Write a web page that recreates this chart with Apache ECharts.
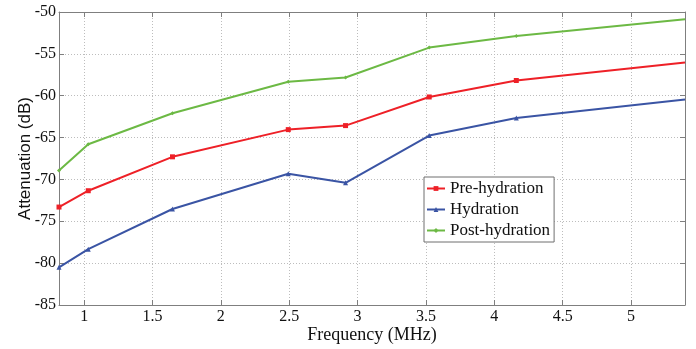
<!DOCTYPE html>
<html>
<head>
<meta charset="utf-8">
<script src="https://cdn.jsdelivr.net/npm/echarts@6/dist/echarts.min.js"></script>
<style>html,body{margin:0;padding:0;background:#fff;}#c{width:696px;height:349px;}</style>
</head>
<body>
<div id="c"></div>
<script>
const seriesNames = ['Pre-hydration', 'Hydration', 'Post-hydration'];
const freq = [0.816, 1.03, 1.646, 2.493, 2.912, 3.524, 4.161, 5.395];
const preHydration = [-73.3, -71.35, -67.3, -64.05, -63.57, -60.15, -58.18, -56.03];
const hydration = [-80.5, -78.33, -73.53, -69.33, -70.4, -64.76, -62.65, -60.44];
const postHydration = [-68.93, -65.8, -62.1, -58.33, -57.82, -54.25, -52.86, -50.87];
const xTicks = [1, 1.5, 2, 2.5, 3, 3.5, 4, 4.5, 5];
const xMin = 0.816, xMax = 5.395;
const yMin = -85, yMax = -50, yStep = 5;

const colors = ['#ee2027', '#3a54a4', '#6cb944'];
const symbols = ['rect', 'triangle', 'diamond'];
const symbolSizes = [5, 5, 4];
const allVals = [preHydration, hydration, postHydration];

function build(vals) {
  return freq.map((f, i) => {
    const item = { value: [f, vals[i]] };
    if (i === freq.length - 1) item.symbol = 'none';
    return item;
  });
}

const serif = 'Liberation Serif';
const axisGray = '#7f7f7f';
const chart = echarts.init(document.getElementById('c'));
chart.setOption({
  animation: false,
  backgroundColor: '#fff',
  grid: { left: 59, right: 11, top: 12, bottom: 43, containLabel: false },
  legend: {
    orient: 'vertical', left: 424, top: 177,
    padding: [2, 4, 2, 2], itemWidth: 18, itemHeight: 6, itemGap: 2,
    backgroundColor: '#fff', borderColor: '#6f6f6f', borderWidth: 1, borderRadius: 0,
    textStyle: { fontFamily: serif, fontSize: 17, color: '#111', lineHeight: 19 },
    data: seriesNames
  },
  xAxis: [{
    type: 'value', min: xMin, max: xMax, position: 'bottom',
    name: 'Frequency (MHz)', nameLocation: 'middle', nameGap: 21, nameMoveOverlap: false,
    nameTextStyle: { fontFamily: serif, fontSize: 18, color: '#111' },
    axisLine: { show: true, lineStyle: { color: axisGray, width: 1 } },
    axisTick: { show: true, inside: true, length: 5, customValues: xTicks, lineStyle: { color: axisGray } },
    axisLabel: { customValues: xTicks, margin: 4, fontFamily: serif, fontSize: 16, color: '#111' },
    splitLine: { show: true, lineStyle: { color: '#bdbdbd', type: [1, 2], width: 1 } }
  }, {
    type: 'value', min: xMin, max: xMax, position: 'top',
    axisLine: { show: true, lineStyle: { color: axisGray, width: 1 } },
    axisTick: { show: true, inside: true, length: 5, customValues: xTicks, lineStyle: { color: axisGray } },
    axisLabel: { show: false },
    splitLine: { show: false }
  }],
  yAxis: [{
    type: 'value', min: yMin, max: yMax, interval: yStep, position: 'left',
    name: 'Attenuation (dB)', nameLocation: 'middle', nameGap: 25, nameMoveOverlap: false,
    nameTextStyle: { fontFamily: 'Liberation Sans', fontSize: 17, color: '#111' },
    axisLine: { show: true, lineStyle: { color: axisGray, width: 1 } },
    axisTick: { show: true, inside: true, length: 5, lineStyle: { color: axisGray } },
    axisLabel: { margin: 3, fontFamily: serif, fontSize: 16, color: '#111' },
    splitLine: { show: true, lineStyle: { color: '#bdbdbd', type: [1, 2], width: 1 } }
  }, {
    type: 'value', min: yMin, max: yMax, interval: yStep, position: 'right',
    axisLine: { show: true, lineStyle: { color: axisGray, width: 1 } },
    axisTick: { show: true, inside: true, length: 5, lineStyle: { color: axisGray } },
    axisLabel: { show: false },
    splitLine: { show: false }
  }],
  series: seriesNames.map((n, k) => ({
    name: n, type: 'line', xAxisIndex: 0, yAxisIndex: 0,
    data: build(allVals[k]),
    symbol: symbols[k], symbolSize: symbolSizes[k], showSymbol: true,
    clip: false,
    itemStyle: { color: colors[k] },
    lineStyle: { color: colors[k], width: 2 }
  }))
});
</script>
</body>
</html>
